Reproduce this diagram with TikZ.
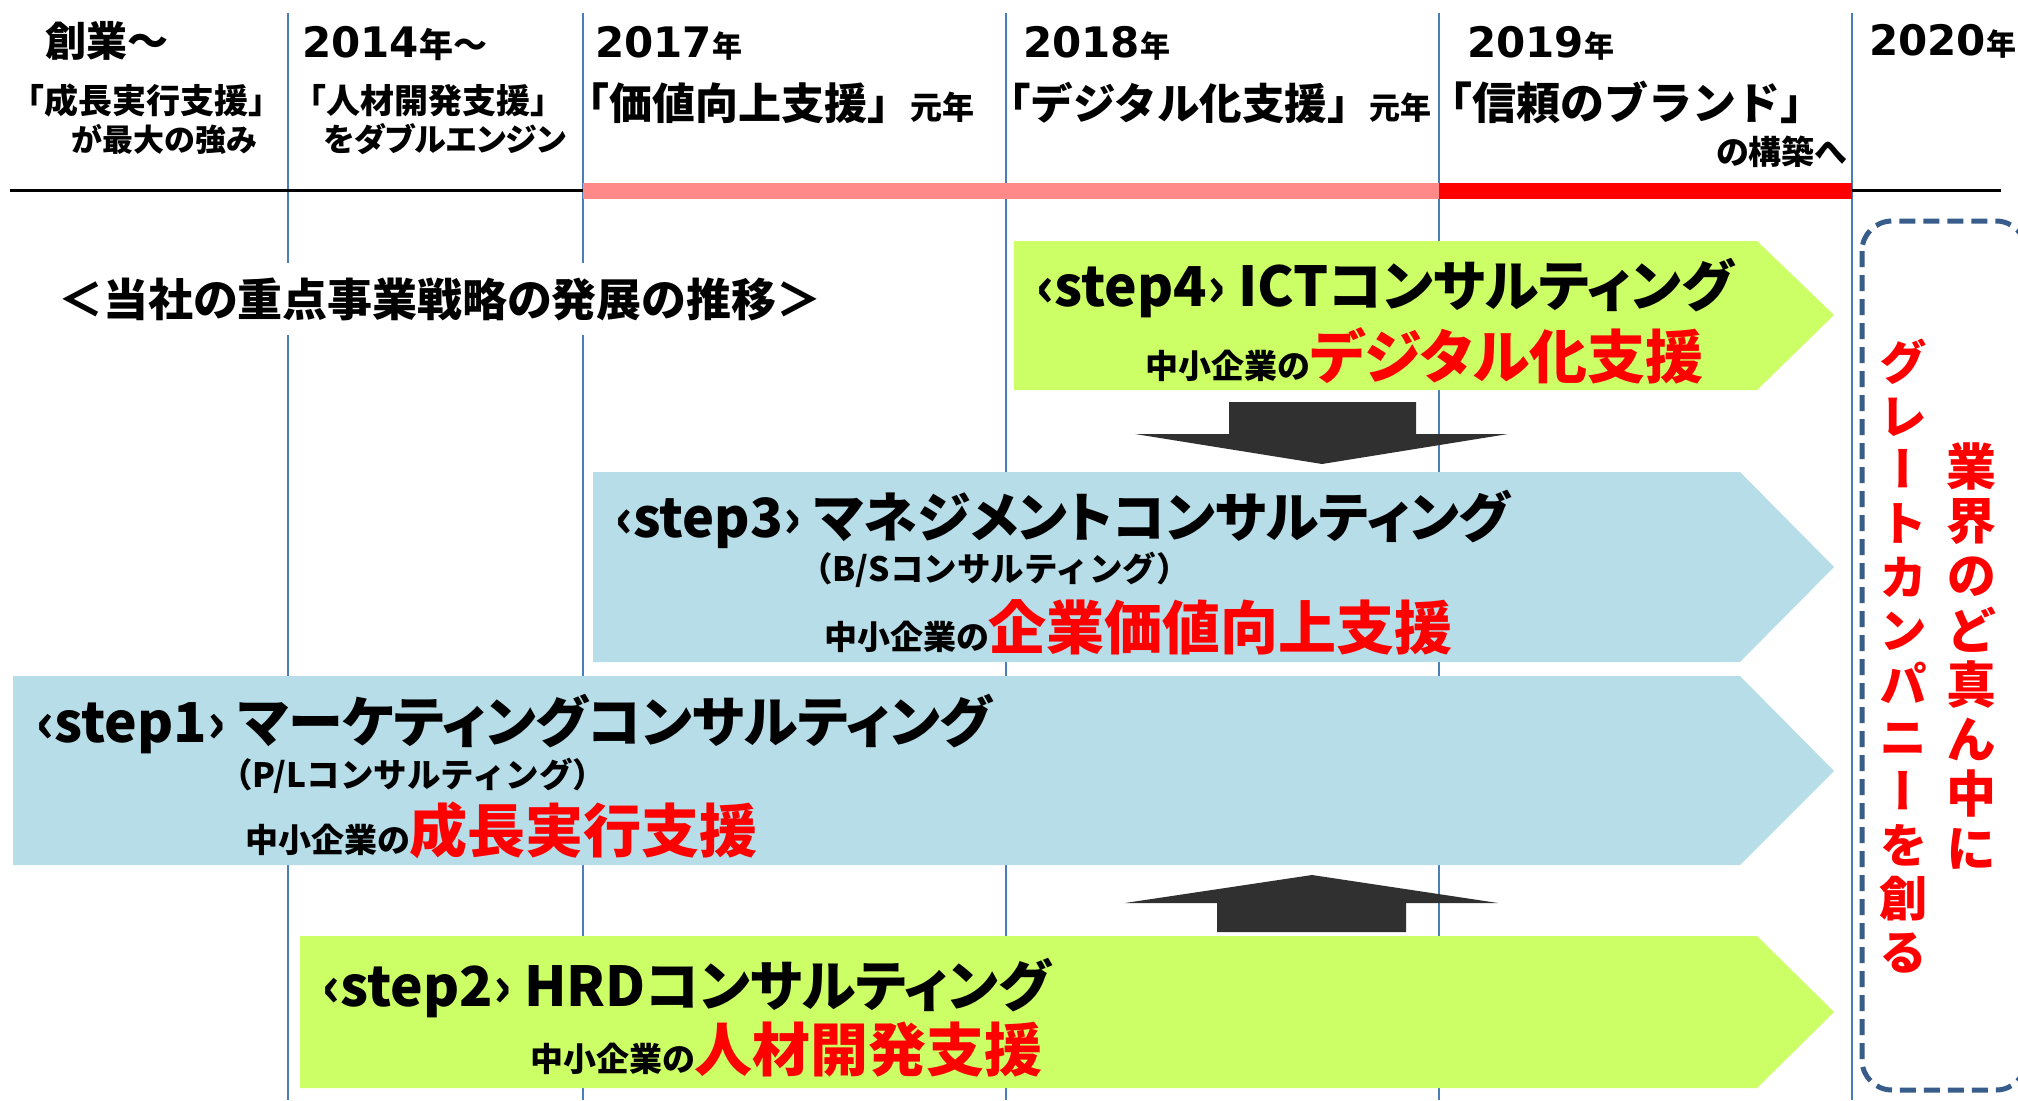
\documentclass[tikz,border=0pt]{standalone}
\usepackage{fontspec}
\usepackage{graphicx}
\newfontfamily\jp{Noto Sans CJK JP}[RawFeature=+palt]
\newfontfamily\jpn{Noto Sans CJK JP}
\newfontfamily\jpv{Noto Sans CJK JP}[RawFeature=+vert]
\newfontfamily\numf{DejaVu Sans}
\definecolor{lineblue}{RGB}{74,126,187}
\definecolor{pinkbar}{RGB}{255,136,136}
\definecolor{redbar}{RGB}{255,0,0}
\definecolor{stepgreen}{RGB}{204,255,102}
\definecolor{stepblue}{RGB}{183,222,232}
\definecolor{boxblue}{RGB}{56,93,138}
\definecolor{arrowdark}{RGB}{48,48,48}
\definecolor{txtred}{RGB}{255,0,0}
\newcommand{\fs}[1]{\fontsize{#1}{#1}\selectfont}
\begin{document}
\begin{tikzpicture}[x=1pt,y=-1pt,
  vline/.style={draw=lineblue,line width=2.6pt},
  lbl/.style={inner sep=0pt,anchor=base west,font=\jp\bfseries},
  nlbl/.style={inner sep=0pt,anchor=base west,font=\jpn\bfseries},
  clbl/.style={inner sep=0pt,anchor=base,font=\jpn\bfseries},
  greenstep/.style={fill=stepgreen},
  bluestep/.style={fill=stepblue},
  blockarrow/.style={fill=arrowdark},
  mainline/.style={lbl,font=\jp\bfseries\fs{55}},
  subline/.style={nlbl,font=\jpn\bfseries\fs{33.5}},
  redline/.style={lbl},
  dashbox/.style={draw=boxblue,line width=5pt,dash pattern=on 16pt off 8pt,rounded corners=30pt}]
\useasboundingbox (0,0) rectangle (2018,1100);
\fill[white] (0,0) rectangle (2018,1100);

% vertical timeline lines
\foreach \x/\n in {288/a,583/b,1006/c,1439/d,1852/e}{
  \coordinate (vt\n) at (\x,13);
  \coordinate (vb\n) at (\x,1100);
  \draw[vline] (vt\n) -- (vb\n);
}

% horizontal axis and bars
\coordinate (hl) at (10,190);
\coordinate (hr) at (2001,190);
\draw[line width=3pt] (hl) -- (hr);
\fill[pinkbar] (583,183) rectangle (1439,199);
\fill[redbar] (1439,183) rectangle (1852,199);

% header texts
\node[lbl,font=\jp\bfseries\fs{41}] (h0a) at (45,56) {創業～};
\node[clbl,font=\jpn\bfseries\fs{34}] (h0b) at (146,113) {「成長実行支援」};
\node[clbl,font=\jp\bfseries\fs{31}] (h0c) at (164,151) {が最大の強み};

\node[lbl] (h1a) at (302,57) {{\numf\bfseries\fs{42}2014}{\fs{34}年～}};
\node[clbl,font=\jpn\bfseries\fs{34}] (h1b) at (428,113) {「人材開発支援」};
\node[clbl,font=\jp\bfseries\fs{32}] (h1c) at (445,151) {をダブルエンジン};

\node[lbl] (h2a) at (595,57) {{\numf\bfseries\fs{42}2017}{\fs{30}年}};
\node[nlbl] (h2b) at (566,119) {{\fs{43}「価値向上支援」}{\fs{32}元年}};

\node[lbl] (h3a) at (1023,57) {{\numf\bfseries\fs{42}2018}{\fs{30}年}};
\node[nlbl] (h3b) at (988,119) {{\fs{42.5}「デジタル化支援」}{\fs{31}元年}};

\node[lbl] (h4a) at (1467,57) {{\numf\bfseries\fs{42}2019}{\fs{30}年}};
\node[nlbl,font=\jpn\bfseries\fs{44}] (h4b) at (1428,119) {「信頼のブランド」};
\node[inner sep=0pt,anchor=base east,font=\jp\bfseries\fs{33}] (h4c) at (1847,164) {の構築へ};

\node[lbl] (h5a) at (1869,55) {{\numf\bfseries\fs{42}2020}{\fs{30}年}};

% title
\node[lbl,font=\jp\bfseries\fs{45},fill=white,inner ysep=14pt] (title) at (58,316) {＜当社の重点事業戦略の発展の推移＞};

% step shapes
\fill[greenstep] (1014,241) -- (1757,241) -- (1834,315) -- (1757,390) -- (1014,390) -- cycle;
\fill[bluestep] (593,472) -- (1740,472) -- (1834,567) -- (1740,662) -- (593,662) -- cycle;
\fill[bluestep] (13,676) -- (1740,676) -- (1834,771) -- (1740,865) -- (13,865) -- cycle;
\fill[greenstep] (300,936) -- (1757,936) -- (1834,1012) -- (1757,1088) -- (300,1088) -- cycle;

% block arrows between steps
\fill[blockarrow] (1229,402) -- (1416,402) -- (1416,434) -- (1508,434) -- (1322,464) -- (1135,434) -- (1229,434) -- cycle;
\fill[blockarrow] (1217,932) -- (1406,932) -- (1406,903) -- (1498,903) -- (1312,875) -- (1125,903) -- (1217,903) -- cycle;

% step 4
\node[mainline] (s4a) at (1036,306) {‹step4› ICTコンサルティング};
\node[redline] (s4b) at (1145,378) {{\fs{33}中小企業の}{\fs{58}\color{txtred}デジタル化支援}};

% step 3
\node[mainline,font=\jp\bfseries\fs{54}] (s3a) at (615,537) {‹step3› マネジメントコンサルティング};
\node[subline] (s3p) at (799,581) {（B/Sコンサルティング）};
\node[redline] (s3b) at (824,649) {{\fs{33}中小企業の}{\fs{58}\color{txtred}企業価値向上支援}};

% step 1
\node[mainline] (s1a) at (36,742) {‹step1› マーケティングコンサルティング};
\node[subline] (s1p) at (219,787) {（P/Lコンサルティング）};
\node[redline] (s1b) at (245,852) {{\fs{33}中小企業の}{\fs{58}\color{txtred}成長実行支援}};

% step 2
\node[mainline] (s2a) at (322,1006) {‹step2› HRDコンサルティング};
\node[redline] (s2b) at (530,1071) {{\fs{33}中小企業の}{\fs{58}\color{txtred}人材開発支援}};

% goal box
\draw[dashbox] (1862,221) rectangle (2026,1090);
\node[inner sep=0pt,align=center,text=txtred,font=\jpv\bfseries\fontsize{48}{53.6}\selectfont] (goal1) at (1903,656)
  {グ\\レ\\ー\\ト\\カ\\ン\\パ\\ニ\\ー\\を\\創\\る};
\node[inner sep=0pt,align=center,text=txtred,font=\jpv\bfseries\fontsize{50}{54.6}\selectfont] (goal2) at (1971,656)
  {業\\界\\の\\ど\\真\\ん\\中\\に};
\end{tikzpicture}
\end{document}
